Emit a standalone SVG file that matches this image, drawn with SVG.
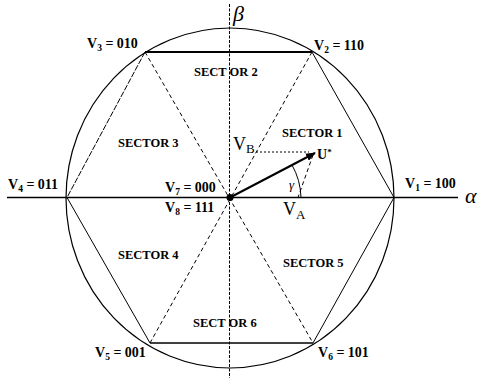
<svg xmlns="http://www.w3.org/2000/svg" width="479" height="378" viewBox="0 0 479 378">
<defs>
<marker id="ah" markerWidth="10" markerHeight="8" refX="9" refY="4" orient="auto" markerUnits="userSpaceOnUse">
<path d="M0,0 L10,4 L0,8 Z" fill="#000"/>
</marker>
<style>
.lab{font-family:"Liberation Serif",serif;font-weight:bold;font-size:14px;fill:#000}
.sec{font-family:"Liberation Serif",serif;font-weight:bold;font-size:12.5px;fill:#000}
.big{font-family:"Liberation Serif",serif;font-size:18px;fill:#000}
.greek{font-family:"Liberation Serif",serif;font-style:italic;font-size:22px;fill:#000}
.ln{stroke:#000;fill:none}
.dash{stroke:#000;fill:none;stroke-width:1;stroke-dasharray:4 3}
.dot{stroke:#000;fill:none;stroke-width:1;stroke-dasharray:2 2}
</style>
</defs>
<rect width="479" height="378" fill="#fff"/>
<g id="connectors">
<ellipse class="ln" cx="230" cy="198" rx="164" ry="170" stroke-width="1.2"/>
<line class="ln" x1="7" y1="197.5" x2="458" y2="197.5" stroke-width="1.3"/>
<line class="ln" x1="229.5" y1="4" x2="229.5" y2="378" stroke-width="1" stroke-dasharray="3 1.5"/>
<line class="ln" x1="145" y1="52" x2="312" y2="52" stroke-width="2"/>
<line class="ln" x1="150" y1="343" x2="313" y2="343" stroke-width="1.5"/>
<line class="ln" x1="312" y1="52" x2="394" y2="197.5" stroke-width="1"/>
<line class="ln" x1="394" y1="197.5" x2="313" y2="343" stroke-width="1"/>
<line class="ln" x1="145" y1="52" x2="67" y2="197.5" stroke-width="1" stroke-dasharray="6 1.5"/>
<line class="ln" x1="67" y1="197.5" x2="150" y2="343" stroke-width="1"/>
<line class="dash" x1="312" y1="52" x2="150" y2="343"/>
<line class="dash" x1="145" y1="52" x2="313" y2="343"/>
<line class="ln" x1="230" y1="197.5" x2="315" y2="153" stroke-width="2" marker-end="url(#ah)"/>
<line class="dot" x1="256" y1="152" x2="309" y2="152"/>
<line class="dash" x1="313" y1="155" x2="298" y2="197.5" stroke-dasharray="3 2"/>
<path class="ln" d="M 292 165 A 70 70 0 0 1 301 197.5" stroke-width="1"/>
<circle cx="230" cy="197.5" r="3.5" fill="#000"/>
</g>
<g id="node-v1"><text class="lab" x="405" y="188">V<tspan font-size="9.5" dy="3">1</tspan><tspan dy="-3"> = 100</tspan></text></g>
<g id="node-v2"><text class="lab" x="314" y="50">V<tspan font-size="9.5" dy="3">2</tspan><tspan dy="-3"> = 110</tspan></text></g>
<g id="node-v3"><text class="lab" x="87" y="48">V<tspan font-size="9.5" dy="3">3</tspan><tspan dy="-3"> = 010</tspan></text></g>
<g id="node-v4"><text class="lab" x="8" y="189">V<tspan font-size="9.5" dy="3">4</tspan><tspan dy="-3"> = 011</tspan></text></g>
<g id="node-v5"><text class="lab" x="95" y="357">V<tspan font-size="9.5" dy="3">5</tspan><tspan dy="-3"> = 001</tspan></text></g>
<g id="node-v6"><text class="lab" x="318" y="357">V<tspan font-size="9.5" dy="3">6</tspan><tspan dy="-3"> = 101</tspan></text></g>
<g id="node-v7"><text class="lab" x="165" y="192">V<tspan font-size="9.5" dy="3">7</tspan><tspan dy="-3"> = 000</tspan></text></g>
<g id="node-v8"><text class="lab" x="165" y="212">V<tspan font-size="9.5" dy="3">8</tspan><tspan dy="-3"> = 111</tspan></text></g>
<g id="axis-labels">
<text class="greek" x="465" y="203">α</text>
<text class="greek" x="233" y="21">β</text>
</g>
<g id="sectors">
<text class="sec" x="194" y="76">SECT OR 2</text>
<text class="sec" x="118" y="147">SECTOR 3</text>
<text class="sec" x="282" y="137">SECTOR 1</text>
<text class="sec" x="118" y="259">SECTOR 4</text>
<text class="sec" x="283" y="267">SECTOR 5</text>
<text class="sec" x="193" y="327">SECT OR 6</text>
</g>
<g id="vector-labels">
<text class="big" x="233" y="150">V<tspan font-size="13" dy="3">B</tspan></text>
<text class="big" x="283" y="215">V<tspan font-size="13" dy="4">A</tspan></text>
<text class="lab" x="317" y="159">U<tspan font-size="9" dy="-4">*</tspan></text>
<text x="289" y="189" font-family="Liberation Serif, serif" font-style="italic" font-size="13">γ</text>
</g>
</svg>
